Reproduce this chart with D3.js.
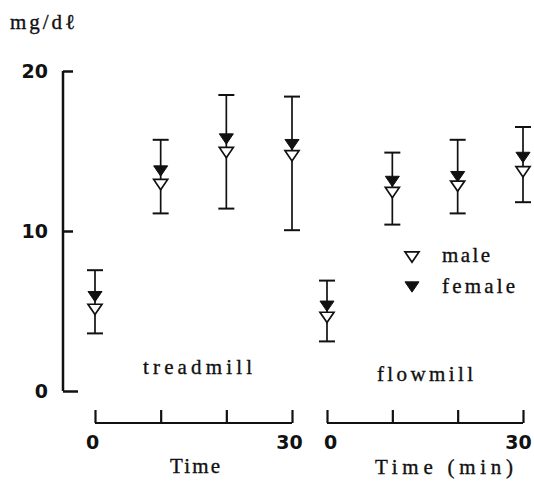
<!DOCTYPE html>
<html>
<head>
<meta charset="utf-8">
<script src="https://cdn.jsdelivr.net/npm/d3@7"></script>
<style>
  body { margin: 0; background: #fff; }
  svg text { fill: #111; }
  .num { font-family: "DejaVu Sans", sans-serif; font-weight: bold; font-size: 19px; }
  .lab { font-family: "Liberation Serif", serif; font-size: 21px; stroke: #111; stroke-width: 0.35px; }
</style>
</head>
<body>
<svg id="chart" width="534" height="482"></svg>
<script>
var times = [0, 10, 20, 30];
var yTicks = [0, 10, 20];
var xLabelTicks = [0, 30];

// treadmill
var treadFemale = [5.9, 13.75, 15.75, 15.4];
var treadFemaleUp = [7.55, 15.7, 18.5, 18.4];
var treadMale = [5.1, 12.9, 14.9, 14.7];
var treadMaleLow = [3.6, 11.1, 11.4, 10.05];

// flowmill
var flowFemale = [5.3, 13.1, 13.4, 14.6];
var flowFemaleUp = [6.9, 14.9, 15.7, 16.5];
var flowMale = [4.6, 12.4, 12.8, 13.7];
var flowMaleLow = [3.1, 10.4, 11.1, 11.8];

var svg = d3.select("#chart");

var y = d3.scaleLinear().domain([0, 20]).range([391, 71]);
var xTread = d3.scaleLinear().domain([0, 30]).range([95, 292]);
var xFlow = d3.scaleLinear().domain([0, 30]).range([327, 523]);

// y axis
var gy = svg.append("g")
    .attr("transform", "translate(63,0)")
    .call(d3.axisLeft(y)
            .tickValues(yTicks)
            .tickSize(-10)
            .tickPadding(15)
            .tickFormat(d3.format("d")));
gy.select(".domain").attr("d", "M0," + y(20) + "V" + y(0)).attr("stroke", "#111").attr("stroke-width", 2.5);
gy.selectAll(".tick line").attr("stroke", "#111").attr("stroke-width", 2.5);
gy.select(".tick:first-of-type line").attr("x2", 15);
gy.selectAll(".tick text").attr("class", "num").attr("font-family", null).attr("font-size", null);

// x axes (shift: nudge of the 0 / 30 labels as typeset)
function xAxis(scale, shift) {
    var g = svg.append("g")
        .attr("transform", "translate(0,423)")
        .call(d3.axisBottom(scale)
                .tickValues(times)
                .tickSize(-13)
                .tickPadding(13)
                .tickFormat(function(d) {
                    return xLabelTicks.indexOf(d) >= 0 ? d : "";
                }));
    g.select(".domain").attr("d", "M" + scale(0) + ",0H" + scale(30)).attr("stroke", "#111").attr("stroke-width", 2.2);
    g.selectAll(".tick line").attr("stroke", "#111").attr("stroke-width", 2.2);
    g.selectAll(".tick text").attr("class", "num").attr("font-family", null).attr("font-size", null)
        .attr("dx", function(d) { return d === 0 ? shift[0] : shift[1]; });
    return g;
}
xAxis(xTread, [-3, -3]);
xAxis(xFlow, [3, -5]);

// flat downward triangle, width w, height 0.73w
var invTri = {
    draw: function(ctx, size) {
        var w = Math.sqrt(size / 0.365), h = 0.73 * w;
        ctx.moveTo(-w / 2, -h / 2);
        ctx.lineTo(w / 2, -h / 2);
        ctx.lineTo(0, h / 2);
        ctx.closePath();
    }
};
var tri = d3.symbol().type(invTri).size(72);

function series(scale, fem, femUp, mal, malLow) {
    var g = svg.append("g");
    var idx = d3.range(times.length);
    // error bars
    g.selectAll(".err")
        .data(idx)
      .enter().append("line")
        .attr("x1", function(i) { return scale(times[i]); })
        .attr("x2", function(i) { return scale(times[i]); })
        .attr("y1", function(i) { return y(femUp[i]); })
        .attr("y2", function(i) { return y(malLow[i]); })
        .attr("stroke", "#111").attr("stroke-width", 1.7);
    g.selectAll(".capTop")
        .data(idx)
      .enter().append("line")
        .attr("x1", function(i) { return scale(times[i]) - 8; })
        .attr("x2", function(i) { return scale(times[i]) + 8; })
        .attr("y1", function(i) { return y(femUp[i]); })
        .attr("y2", function(i) { return y(femUp[i]); })
        .attr("stroke", "#111").attr("stroke-width", 2);
    g.selectAll(".capBot")
        .data(idx)
      .enter().append("line")
        .attr("x1", function(i) { return scale(times[i]) - 8; })
        .attr("x2", function(i) { return scale(times[i]) + 8; })
        .attr("y1", function(i) { return y(malLow[i]); })
        .attr("y2", function(i) { return y(malLow[i]); })
        .attr("stroke", "#111").attr("stroke-width", 2);
    g.selectAll(".fem")
        .data(idx)
      .enter().append("path")
        .attr("d", tri)
        .attr("transform", function(i) { return "translate(" + scale(times[i]) + "," + y(fem[i]) + ")"; })
        .attr("fill", "#111").attr("stroke", "#111").attr("stroke-width", 1);
    g.selectAll(".mal")
        .data(idx)
      .enter().append("path")
        .attr("d", tri)
        .attr("transform", function(i) { return "translate(" + scale(times[i]) + "," + y(mal[i]) + ")"; })
        .attr("fill", "#fff").attr("stroke", "#111").attr("stroke-width", 1.7);
}
series(xTread, treadFemale, treadFemaleUp, treadMale, treadMaleLow);
series(xFlow, flowFemale, flowFemaleUp, flowMale, flowMaleLow);

// legend
svg.append("path").attr("d", tri).attr("transform", "translate(412,257)")
    .attr("fill", "#fff").attr("stroke", "#111").attr("stroke-width", 1.7);
svg.append("path").attr("d", tri).attr("transform", "translate(412,287)")
    .attr("fill", "#111").attr("stroke", "#111").attr("stroke-width", 1);

function label(x, yy, txt, len) {
    return svg.append("text").attr("class", "lab")
        .attr("x", x).attr("y", yy)
        .attr("textLength", len).attr("lengthAdjust", "spacing")
        .text(txt);
}
label(442, 262, "male", 48);
label(442, 293, "female", 73);

// labels
label(10, 29, "mg/dℓ", 65);
label(143, 374, "treadmill", 109);
label(377, 381, "flowmill", 96);
label(170, 473, "Time", 50);
label(375, 474, "Time (min)", 138);
</script>
</body>
</html>
